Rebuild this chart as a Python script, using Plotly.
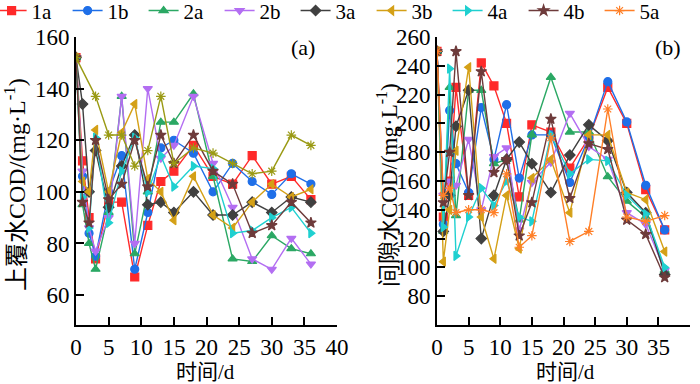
import plotly.graph_objects as go

days = [0, 1, 2, 3, 5, 7, 9, 11, 13, 15, 18, 21, 24, 27, 30, 33, 36]

# (a) overlying water COD
ow_1a = [152, 112, 90, 74, 96, 96, 67, 87, 104, 108, 118, 106, 103, 114, 103, 106, 97]
ow_1b = [152, 106, 84, 75, 100, 114, 70, 92, 117, 120, 115, 100, 111, 104, 99, 107, 103]
ow_2a = [152, 95, 80, 70, 92, 137, 76, 100, 127, 127, 138, 106, 74, 73, 83, 78, 76]
ow_2b = [152, 108, 86, 77, 90, 137, 80, 140, 113, 118, 137, 111, 94, 74, 70, 82, 72]
ow_3a = [152, 134, 100, 116, 94, 110, 122, 95, 96, 92, 100, 91, 91, 96, 92, 98, 96]
ow_3b = [152, 104, 100, 124, 100, 123, 134, 105, 100, 89, 106, 91, 86, 96, 103, 98, 101]
ow_4a = [152, 98, 86, 121, 88, 108, 121, 100, 114, 102, 110, 109, 84, 85, 90, 94, 84]
ow_4b = [152, 96, 88, 120, 97, 103, 120, 102, 122, 111, 122, 108, 103, 84, 87, 96, 88]
ow_5a = [152, None, None, 137, 122, 122, 110, 116, 137, 111, 117, 115, 111, 107, 108, 122, 118]

# (b) interstitial water COD
iw_1a = [250, 135, 160, 225, 150, 242, 226, 200, 149, 199, 194, 169, 190, 225, 200, 154, 126]
iw_1b = [250, 130, 209, 172, 152, 211, 175, 213, 162, 192, 192, 159, 190, 229, 201, 157, 126]
iw_2a = [250, 125, 225, 136, 223, 223, 172, 175, 133, 192, 232, 194, 194, 163, 146, 135, 98]
iw_2b = [250, 150, 160, 157, 189, 140, 177, 183, 126, 159, 173, 207, 184, 175, 138, 130, 98]
iw_3a = [250, 125, 150, 198, 223, 120, 150, 175, 187, 172, 152, 178, 199, 188, 152, 138, 95]
iw_3b = [250, 104, 140, 181, 239, 135, 106, 150, 113, 162, 175, 138, 192, 192, 152, 147, 111]
iw_4a = [250, 128, 238, 108, 135, 155, 143, 160, 135, 132, 192, 165, 175, 174, 150, 137, 100]
iw_4b = [250, 145, 180, 250, 150, 236, 166, 175, 122, 145, 203, 148, 186, 182, 133, 123, 93]
iw_5a = [250, 150, 155, 138, 140, 140, 138, 165, 114, 122, 190, 118, 125, 210, 135, 132, 136]

names = ["1a", "1b", "2a", "2b", "3a", "3b", "4a", "4b", "5a"]
colors = ["#FF2A2A", "#1F6FE8", "#2BA864", "#B36EF2", "#404040", "#D4A017", "#1FD0D0", "#6E3B3B", "#FF7F27"]
symbols = ["square", "circle", "triangle-up", "triangle-down", "diamond", "triangle-left",
           "triangle-right", "star", "asterisk-open"]
ow = [ow_1a, ow_1b, ow_2a, ow_2b, ow_3a, ow_3b, ow_4a, ow_4b, ow_5a]
iw = [iw_1a, iw_1b, iw_2a, iw_2b, iw_3a, iw_3b, iw_4a, iw_4b, iw_5a]
olive = "#9A9A14"

FONT = "Liberation Serif, Times New Roman, Noto Sans CJK SC, serif"

fig = go.Figure()
for i, n in enumerate(names):
    c = colors[i]
    left_c = olive if n == "5a" else c
    fig.add_trace(go.Scatter(
        x=days, y=ow[i], name=n, mode="lines+markers", connectgaps=True,
        line=dict(color=left_c, width=1.4),
        marker=dict(symbol=symbols[i], size=8, color=left_c, line=dict(color=left_c, width=1.2)),
        xaxis="x", yaxis="y", showlegend=False, legendgroup=n))
for i, n in enumerate(names):
    c = colors[i]
    fig.add_trace(go.Scatter(
        x=days, y=iw[i], name=n, mode="lines+markers",
        line=dict(color=c, width=1.4),
        marker=dict(symbol=symbols[i], size=8, color=c, line=dict(color=c, width=1.2)),
        xaxis="x2", yaxis="y2", showlegend=True, legendgroup=n))

ax = dict(showline=True, linecolor="black", linewidth=2, ticks="inside", ticklen=8,
          tickwidth=1.5, tickcolor="black", showgrid=False, zeroline=False,
          tickfont=dict(family=FONT, size=23, color="black"), automargin=False)

y0, y1 = 1 - 325 / 384, 1 - 37 / 384


def ann(text, px, py, size=22, angle=0):
    return dict(text=text, x=px / 700, y=1 - py / 384, xref="paper", yref="paper", showarrow=False,
                xanchor="center", yanchor="middle", textangle=angle,
                font=dict(family=FONT, size=size, color="black"))


fig.update_layout(
    width=700, height=384, margin=dict(l=0, r=0, t=0, b=0, autoexpand=False),
    paper_bgcolor="white", plot_bgcolor="white",
    font=dict(family=FONT, color="black"),
    xaxis=dict(ax, domain=[76 / 700, 337 / 700], range=[0, 40], tickvals=[0, 5, 10, 15, 20, 25, 30, 35, 40],
               anchor="y"),
    yaxis=dict(ax, domain=[y0, y1], range=[48.4, 160], tickvals=[60, 80, 100, 120, 140, 160], anchor="x"),
    xaxis2=dict(ax, domain=[437 / 700, 690 / 700], range=[0, 40], tickvals=[0, 5, 10, 15, 20, 25, 30, 35, 40],
                anchor="y2"),
    yaxis2=dict(ax, domain=[y0, y1], range=[60, 260], tickvals=[80, 100, 120, 140, 160, 180, 200, 220, 240, 260],
                anchor="x2"),
    legend=dict(orientation="h", x=-0.012, y=1.025, xanchor="left", yanchor="top",
                font=dict(family=FONT, size=21, color="black"), entrywidth=31, entrywidthmode="pixels",
                itemwidth=30, bgcolor="rgba(0,0,0,0)"),
    annotations=[
        ann("(a)", 303, 47),
        ann("(b)", 668, 47),
        ann("时间/d", 205, 372, 21),
        ann("时间/d", 565, 372, 21),
        ann("上覆水COD/(mg·L<sup>-1</sup>)", 15, 185, 24, -90),
        ann("间隙水COD/(mg·L<sup>-1</sup>)", 388, 185, 23, -90),
    ],
)

fig.write_html("out.html", config={"displayModeBar": False},
               post_script="document.body.style.margin='0';document.body.style.overflow='hidden';")
